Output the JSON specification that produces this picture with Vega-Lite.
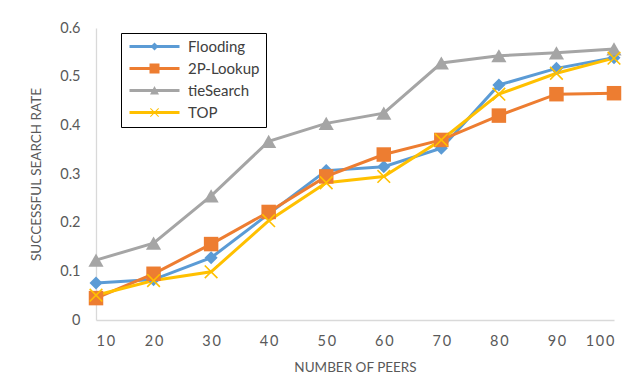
{
  "$schema": "https://vega.github.io/schema/vega-lite/v6.json",
  "autosize": {"type": "none"},
  "width": 518,
  "height": 292,
  "padding": {"left": 96, "top": 28, "right": 29, "bottom": 65},
  "background": "white",
  "config": {
    "view": {"stroke": null},
    "font": "Lato",
    "axis": {
      "domainColor": "#d9d9d9",
      "domainWidth": 1.3,
      "ticks": false,
      "grid": false,
      "labelColor": "#595959",
      "labelFont": "Lato",
      "labelFontSize": 14.5,
      "titleColor": "#595959",
      "titleFont": "Lato",
      "titleFontSize": 13.5,
      "titleFontWeight": "normal"
    }
  },
  "data": {
    "values": [
      {"peers": 10, "series": "Flooding", "rate": 0.076},
      {"peers": 20, "series": "Flooding", "rate": 0.083},
      {"peers": 30, "series": "Flooding", "rate": 0.128},
      {"peers": 40, "series": "Flooding", "rate": 0.218},
      {"peers": 50, "series": "Flooding", "rate": 0.307},
      {"peers": 60, "series": "Flooding", "rate": 0.315},
      {"peers": 70, "series": "Flooding", "rate": 0.353},
      {"peers": 80, "series": "Flooding", "rate": 0.483},
      {"peers": 90, "series": "Flooding", "rate": 0.517},
      {"peers": 100, "series": "Flooding", "rate": 0.539},
      {"peers": 10, "series": "2P-Lookup", "rate": 0.045},
      {"peers": 20, "series": "2P-Lookup", "rate": 0.095},
      {"peers": 30, "series": "2P-Lookup", "rate": 0.156},
      {"peers": 40, "series": "2P-Lookup", "rate": 0.222},
      {"peers": 50, "series": "2P-Lookup", "rate": 0.295},
      {"peers": 60, "series": "2P-Lookup", "rate": 0.340},
      {"peers": 70, "series": "2P-Lookup", "rate": 0.370},
      {"peers": 80, "series": "2P-Lookup", "rate": 0.420},
      {"peers": 90, "series": "2P-Lookup", "rate": 0.464},
      {"peers": 100, "series": "2P-Lookup", "rate": 0.466},
      {"peers": 10, "series": "tieSearch", "rate": 0.123},
      {"peers": 20, "series": "tieSearch", "rate": 0.158},
      {"peers": 30, "series": "tieSearch", "rate": 0.255},
      {"peers": 40, "series": "tieSearch", "rate": 0.367},
      {"peers": 50, "series": "tieSearch", "rate": 0.404},
      {"peers": 60, "series": "tieSearch", "rate": 0.425},
      {"peers": 70, "series": "tieSearch", "rate": 0.528},
      {"peers": 80, "series": "tieSearch", "rate": 0.543},
      {"peers": 90, "series": "tieSearch", "rate": 0.549},
      {"peers": 100, "series": "tieSearch", "rate": 0.557},
      {"peers": 10, "series": "TOP", "rate": 0.051},
      {"peers": 20, "series": "TOP", "rate": 0.081},
      {"peers": 30, "series": "TOP", "rate": 0.099},
      {"peers": 40, "series": "TOP", "rate": 0.204},
      {"peers": 50, "series": "TOP", "rate": 0.282},
      {"peers": 60, "series": "TOP", "rate": 0.295},
      {"peers": 70, "series": "TOP", "rate": 0.370},
      {"peers": 80, "series": "TOP", "rate": 0.464},
      {"peers": 90, "series": "TOP", "rate": 0.507},
      {"peers": 100, "series": "TOP", "rate": 0.538}
    ]
  },
  "encoding": {
    "x": {
      "field": "peers",
      "type": "quantitative",
      "scale": {"domain": [10, 100], "nice": false, "zero": false},
      "axis": {
        "title": "NUMBER OF PEERS",
        "values": [10, 20, 30, 40, 50, 60, 70, 80, 90, 100],
        "labelExpr": "join(split(datum.label, ''), '\u2009')",
        "labelPadding": 14,
        "titlePadding": 13
      }
    },
    "y": {
      "field": "rate",
      "type": "quantitative",
      "scale": {"domain": [0, 0.6], "nice": false},
      "axis": {
        "title": "SUCCESSFUL SEARCH RATE",
        "values": [0, 0.1, 0.2, 0.3, 0.4, 0.5, 0.6],
        "format": ".1~f",
        "labelPadding": 16,
        "titlePadding": 16
      }
    },
    "color": {
      "field": "series",
      "type": "nominal",
      "scale": {
        "domain": ["Flooding", "2P-Lookup", "tieSearch", "TOP"],
        "range": ["#5B9BD5", "#ED7D31", "#A5A5A5", "#FFC000"]
      },
      "legend": {
        "title": null,
        "orient": "none",
        "legendX": 25,
        "legendY": 5,
        "strokeColor": "black",
        "fillColor": "white",
        "padding": 6,
        "rowPadding": 6,
        "symbolSize": 100,
        "symbolOffset": 20,
        "labelOffset": 26,
        "labelFont": "Lato",
        "labelFontSize": 15,
        "labelColor": "#404040",
        "encode": {
          "symbols": {
            "update": {
              "fill": {"scale": "color", "field": "value"},
              "stroke": {"value": "transparent"},
              "strokeWidth": {"value": 0},
              "opacity": {"value": 1}
            }
          }
        }
      }
    }
  },
  "layer": [
    {
      "mark": {"type": "line", "strokeWidth": 3},
      "encoding": {"detail": {"field": "series"}}
    },
    {
      "transform": [{"filter": "datum.series === 'Flooding'"}],
      "mark": {"type": "point", "shape": "diamond", "filled": true, "size": 170, "opacity": 1}
    },
    {
      "transform": [{"filter": "datum.series === '2P-Lookup'"}],
      "mark": {"type": "point", "shape": "square", "filled": true, "size": 210, "opacity": 1}
    },
    {
      "transform": [{"filter": "datum.series === 'tieSearch'"}],
      "mark": {"type": "point", "shape": "triangle-up", "filled": true, "size": 230, "opacity": 1}
    },
    {
      "transform": [{"filter": "datum.series === 'TOP'"}],
      "mark": {"type": "point", "shape": "M-1,-1L1,1M1,-1L-1,1", "filled": false, "strokeWidth": 1.6, "size": 160, "opacity": 1}
    },
    {
      "transform": [{"filter": "false"}],
      "mark": {"type": "point", "filled": true, "opacity": 1},
      "encoding": {
        "shape": {
          "field": "series",
          "type": "nominal",
          "scale": {
            "domain": ["Flooding", "2P-Lookup", "tieSearch", "TOP"],
            "range": [
              "M-5,-0.3H5V0.3H-5Z M0,-0.8L0.8,0L0,0.8L-0.8,0Z",
              "M-5,-0.3H5V0.3H-5Z M-1,-1H1V1H-1Z",
              "M-5,-0.3H5V0.3H-5Z M0,-0.9L0.9,0.8L-0.9,0.8Z",
              "M-5,-0.3H5V0.3H-5Z M0,-0.14L0.76,-0.9L0.9,-0.76L0.14,0L0.9,0.76L0.76,0.9L0,0.14L-0.76,0.9L-0.9,0.76L-0.14,0L-0.9,-0.76L-0.76,-0.9Z"
            ]
          }
        }
      }
    }
  ]
}
